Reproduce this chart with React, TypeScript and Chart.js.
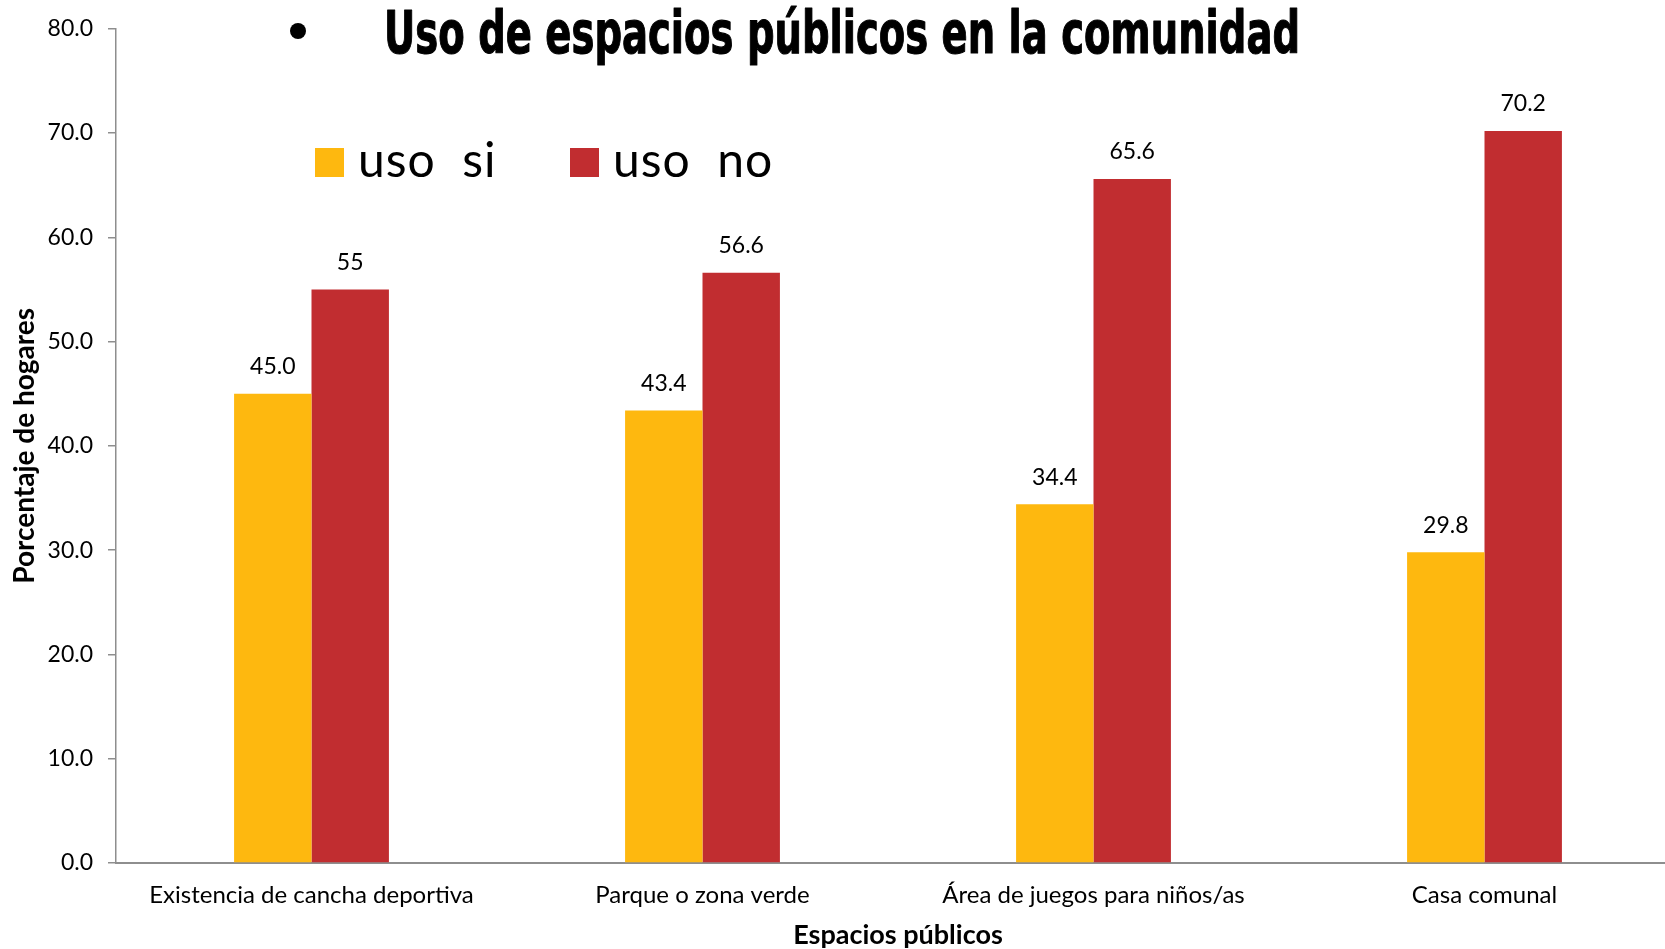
import React, { useEffect, useRef } from "react";
import { Chart, registerables } from "chart.js";

Chart.register(...registerables);

const categories = [
  "Existencia de cancha deportiva",
  "Parque o zona verde",
  "Área de juegos para niños/as",
  "Casa comunal",
];
const usoSi = [45.0, 43.4, 34.4, 29.8];
const usoNo = [55, 56.6, 65.6, 70.2];
const usoSiLabels = ["45.0", "43.4", "34.4", "29.8"];
const usoNoLabels = ["55", "56.6", "65.6", "70.2"];
const seriesNames = ["uso  si", "uso  no"];
const seriesColors = ["#FEB80F", "#C12D30"];
const titleText = "Uso de espacios públicos en la comunidad";
const yTitleText = "Porcentaje de hogares";
const xTitleText = "Espacios públicos";
const yMin = 0;
const yMax = 80;
const yStep = 10;

const BODY_FONT = "Lato, 'Open Sans', sans-serif";
const AXIS_COLOR = "#8E8E8E";

const overlayPlugin = {
  id: "overlay",
  afterDatasetsDraw(chart: any) {
    const ctx = chart.ctx as CanvasRenderingContext2D;
    const labelSets = [usoSiLabels, usoNoLabels];
    ctx.save();
    ctx.fillStyle = "#000";
    ctx.font = `23px ${BODY_FONT}`;
    ctx.textAlign = "center";
    ctx.textBaseline = "middle";
    chart.data.datasets.forEach((_ds: any, di: number) => {
      const meta = chart.getDatasetMeta(di);
      meta.data.forEach((bar: any, i: number) => {
        ctx.fillText(labelSets[di][i], bar.x, bar.y - 27);
      });
    });
    ctx.restore();
  },
  afterDraw(chart: any) {
    const ctx = chart.ctx as CanvasRenderingContext2D;
    ctx.save();
    // title with bullet
    ctx.fillStyle = "#000";
    ctx.strokeStyle = "#000";
    ctx.beginPath();
    ctx.arc(298, 31, 8, 0, Math.PI * 2);
    ctx.fill();
    ctx.font = `bold 58px 'Liberation Sans Narrow', 'DejaVu Sans Condensed', 'Liberation Sans', sans-serif`;
    ctx.textAlign = "left";
    ctx.textBaseline = "alphabetic";
    ctx.fillText(titleText, 384, 53, 916);
    ctx.lineWidth = 1.1;
    ctx.lineJoin = "round";
    ctx.strokeText(titleText, 384, 53, 916);
    // legend
    const legendX = [315, 570];
    chart.data.datasets.forEach((ds: any, di: number) => {
      ctx.fillStyle = ds.backgroundColor;
      ctx.fillRect(legendX[di], 148, 29, 29);
      ctx.fillStyle = "#000";
      ctx.font = `48px ${BODY_FONT}`;
      (ctx as any).letterSpacing = "1px";
      ctx.fillText(ds.label, legendX[di] + 43, 177);
      (ctx as any).letterSpacing = "0px";
    });
    ctx.restore();
  },
};

export default function App() {
  const ref = useRef<HTMLCanvasElement | null>(null);
  useEffect(() => {
    if (!ref.current) return;
    const chart = new Chart(ref.current, {
      type: "bar",
      data: {
        labels: categories,
        datasets: [
          { label: seriesNames[0], data: usoSi, backgroundColor: seriesColors[0] },
          { label: seriesNames[1], data: usoNo, backgroundColor: seriesColors[1] },
        ],
      },
      options: {
        responsive: false,
        animation: false,
        events: [],
        layout: { padding: { top: 24, left: 0, right: 0, bottom: 0 } },
        datasets: {
          bar: { categoryPercentage: 0.396, barPercentage: 1.0 },
        },
        plugins: {
          legend: { display: false },
          title: { display: false },
          tooltip: { enabled: false },
        },
        scales: {
          x: {
            grid: { display: false, drawTicks: false },
            border: { display: true, color: AXIS_COLOR, width: 2 },
            ticks: { color: "#000", font: { family: BODY_FONT, size: 24 }, padding: 18, maxRotation: 0, autoSkip: false },
            title: {
              display: true,
              text: xTitleText,
              color: "#000",
              font: { family: BODY_FONT, size: 27, weight: "bold" },
              padding: { top: 0, bottom: -2 },
            },
            afterFit(scale: any) {
              scale.height = 86;
            },
          },
          y: {
            min: yMin,
            max: yMax,
            grid: { display: true, drawOnChartArea: false, drawTicks: true, tickLength: 8, color: AXIS_COLOR, lineWidth: 1.5 },
            border: { display: true, color: AXIS_COLOR, width: 1.5 },
            ticks: {
              stepSize: yStep,
              color: "#000",
              font: { family: BODY_FONT, size: 23 },
              padding: 15,
              callback: (v: any) => Number(v).toFixed(1),
            },
            title: {
              display: true,
              text: yTitleText,
              color: "#000",
              font: { family: BODY_FONT, size: 28, weight: "bold" },
              padding: { top: 8, bottom: 0 },
            },
            afterFit(scale: any) {
              scale.width = 116;
            },
          },
        },
      },
      plugins: [overlayPlugin],
    } as any);
    return () => chart.destroy();
  }, []);
  return (
    <div style={{ position: "fixed", left: 0, top: 0, width: 1665, height: 949, overflow: "hidden", background: "#fff" }}>
      <canvas ref={ref} width={1680} height={949} style={{ width: 1680, height: 949, display: "block" }} />
    </div>
  );
}
